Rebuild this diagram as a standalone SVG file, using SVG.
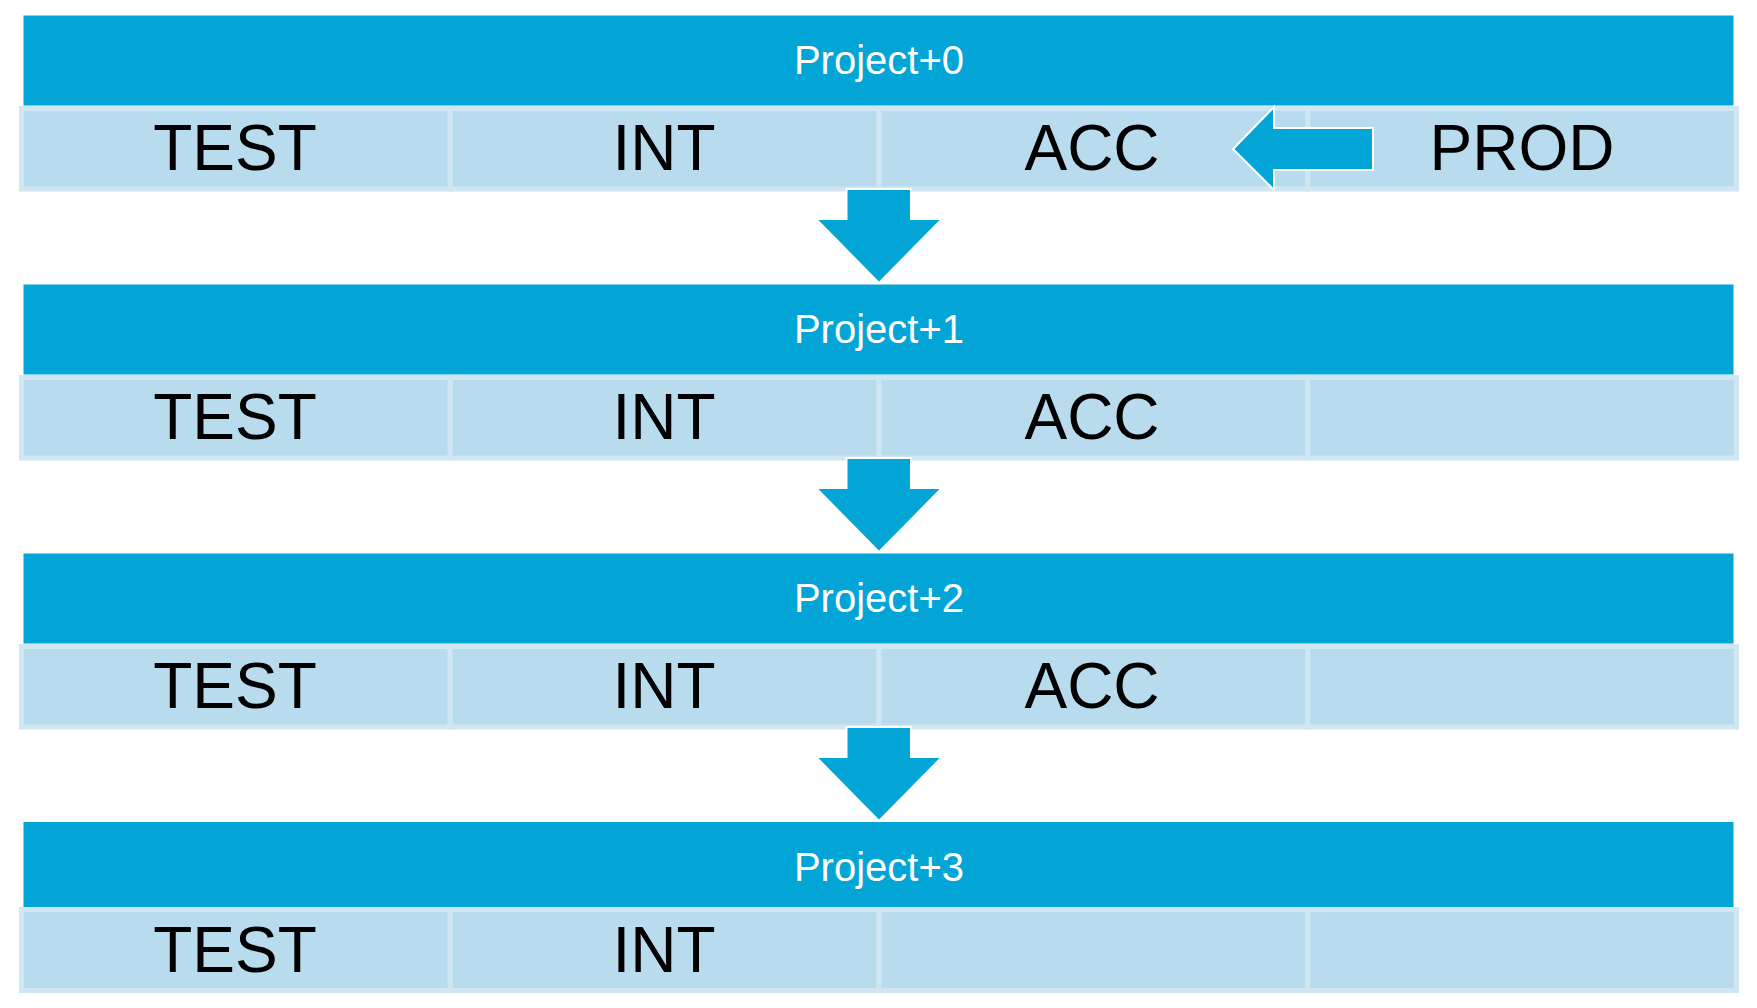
<svg xmlns="http://www.w3.org/2000/svg" width="1757" height="1008" viewBox="0 0 1757 1008">
<style>
.hdr{fill:#03a5d6;}
.hdrt{font-family:"Liberation Sans",Arial,sans-serif;font-size:40px;fill:#ffffff;text-anchor:middle;}
.cell{fill:#b8dbed;stroke:#d0e6f2;stroke-width:5;}
.ct{font-family:"Liberation Sans",Arial,sans-serif;font-size:64px;fill:#000000;text-anchor:middle;}
.arr{fill:#03a5d6;stroke:#ffffff;stroke-width:2;stroke-linejoin:miter;}
</style>
<rect width="1757" height="1008" fill="#ffffff"/>

<!-- Row 0 -->
<g id="project0">
<rect class="hdr" x="23.5" y="15.5" width="1710" height="90"/>
<text class="hdrt" x="879" y="74">Project+0</text>
</g>
<g id="r0-test"><rect class="cell" x="21.5" y="108.5" width="428.75" height="80.5"/><text class="ct" x="235" y="169.5">TEST</text></g>
<g id="r0-int"><rect class="cell" x="450.25" y="108.5" width="428.75" height="80.5"/><text class="ct" x="664" y="169.5">INT</text></g>
<g id="r0-acc"><rect class="cell" x="879" y="108.5" width="428.75" height="80.5"/><text class="ct" x="1092" y="169.5">ACC</text></g>
<g id="r0-prod"><rect class="cell" x="1307.75" y="108.5" width="428.75" height="80.5"/><text class="ct" x="1522" y="169.5">PROD</text></g>

<!-- Row 1 -->
<g id="project1">
<rect class="hdr" x="23.5" y="284.5" width="1710" height="90"/>
<text class="hdrt" x="879" y="343">Project+1</text>
</g>
<g id="r1-test"><rect class="cell" x="21.5" y="377.5" width="428.75" height="80.5"/><text class="ct" x="235" y="438.5">TEST</text></g>
<g id="r1-int"><rect class="cell" x="450.25" y="377.5" width="428.75" height="80.5"/><text class="ct" x="664" y="438.5">INT</text></g>
<g id="r1-acc"><rect class="cell" x="879" y="377.5" width="428.75" height="80.5"/><text class="ct" x="1092" y="438.5">ACC</text></g>
<g id="r1-empty"><rect class="cell" x="1307.75" y="377.5" width="428.75" height="80.5"/></g>

<!-- Row 2 -->
<g id="project2">
<rect class="hdr" x="23.5" y="553.5" width="1710" height="90"/>
<text class="hdrt" x="879" y="612">Project+2</text>
</g>
<g id="r2-test"><rect class="cell" x="21.5" y="646.5" width="428.75" height="80.5"/><text class="ct" x="235" y="707.5">TEST</text></g>
<g id="r2-int"><rect class="cell" x="450.25" y="646.5" width="428.75" height="80.5"/><text class="ct" x="664" y="707.5">INT</text></g>
<g id="r2-acc"><rect class="cell" x="879" y="646.5" width="428.75" height="80.5"/><text class="ct" x="1092" y="707.5">ACC</text></g>
<g id="r2-empty"><rect class="cell" x="1307.75" y="646.5" width="428.75" height="80.5"/></g>

<!-- Row 3 -->
<g id="project3">
<rect class="hdr" x="23.5" y="822" width="1710" height="85"/>
<text class="hdrt" x="879" y="881">Project+3</text>
</g>
<g id="r3-test"><rect class="cell" x="21.5" y="909.5" width="428.75" height="81"/><text class="ct" x="235" y="972">TEST</text></g>
<g id="r3-int"><rect class="cell" x="450.25" y="909.5" width="428.75" height="81"/><text class="ct" x="664" y="972">INT</text></g>
<g id="r3-empty1"><rect class="cell" x="879" y="909.5" width="428.75" height="81"/></g>
<g id="r3-empty2"><rect class="cell" x="1307.75" y="909.5" width="428.75" height="81"/></g>

<!-- Connectors -->
<g id="connectors">
<polygon class="arr" points="846.5,189 911,189 911,219 942,219 879,283 816,219 846.5,219"/>
<polygon class="arr" points="846.5,458 911,458 911,488 942,488 879,552 816,488 846.5,488"/>
<polygon class="arr" points="846.5,727 911,727 911,757 942,757 879,821 816,757 846.5,757"/>
<polygon class="arr" points="1373,128 1274,128 1274,107 1233,149 1274,190 1274,170 1373,170"/>
</g>
</svg>
